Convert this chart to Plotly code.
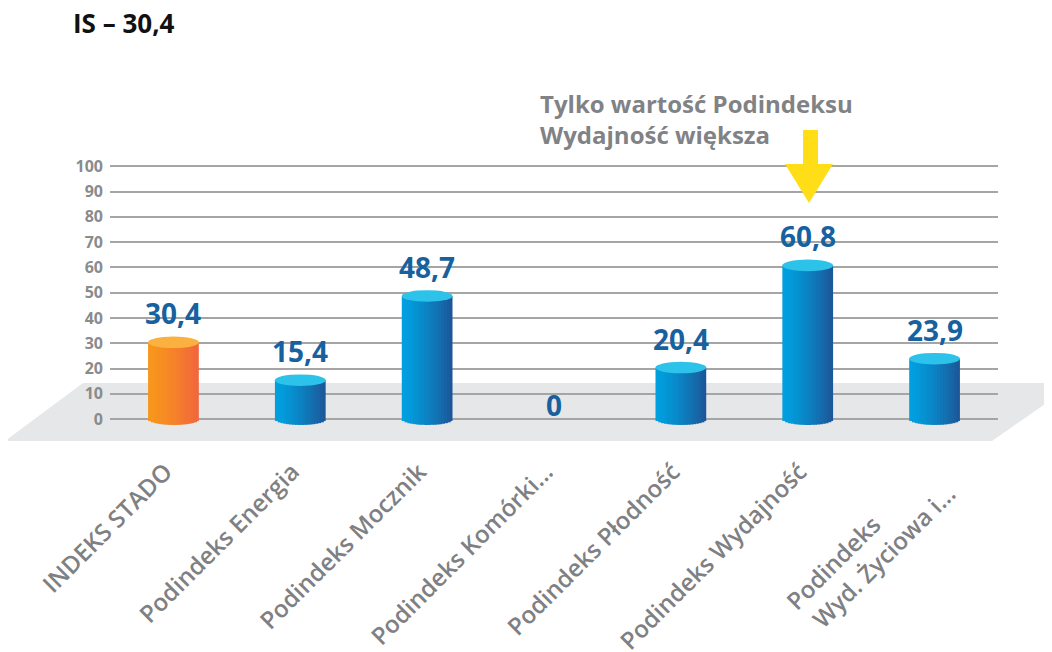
import numpy as np
import plotly.graph_objects as go

# ---- data ----
categories = [
    "INDEKS STADO",
    "Podindeks Energia",
    "Podindeks Mocznik",
    "Podindeks Komórki...",
    "Podindeks Płodność",
    "Podindeks Wydajność",
    "Podindeks<br>Wyd. Życiowa i...",
]
values = [30.4, 15.4, 48.7, 0, 20.4, 60.8, 23.9]
value_labels = ["30,4", "15,4", "48,7", "0", "20,4", "60,8", "23,9"]
y_ticks = [0, 10, 20, 30, 40, 50, 60, 70, 80, 90, 100]
title_text = "IS – 30,4"
note_lines = ["Tylko wartość Podindeksu", "Wydajność większa"]
highlight_index = 0  # orange bar

# ---- styles ----
FONT = "Open Sans"
BAR_W = 0.4
N_SLICES = 18
RY = 2.3  # half-height of cylinder ellipse in data units
PAGE_OFF = 8  # default body margin of the html page
FIG_W, FIG_H = 1052 - PAGE_OFF, 652 - PAGE_OFF
M_L, M_R, M_T, M_B = 110 - PAGE_OFF, 54, 141 - PAGE_OFF, 200
PLOT_W = FIG_W - M_L - M_R
PLOT_H = FIG_H - M_T - M_B
PLOT_BOTTOM = PAGE_OFF + M_T + PLOT_H  # page pixel


def lerp_color(c1, c2, t):
    a = [int(c1[i:i + 2], 16) for i in (1, 3, 5)]
    b = [int(c2[i:i + 2], 16) for i in (1, 3, 5)]
    return "#%02x%02x%02x" % tuple(int(round(a[j] + (b[j] - a[j]) * t)) for j in range(3))


def left_align_lines(label, pad=12):
    # angled tick labels are end-anchored; pad the shorter first line so lines start together
    if "<br>" in label:
        first, rest = label.split("<br>", 1)
        return first + "&nbsp;" * pad + "<br>" + rest
    return label


def px_to_paper(px, py):
    # page pixel -> paper coordinates
    return (px - PAGE_OFF - M_L) / PLOT_W, (PLOT_BOTTOM - py) / PLOT_H


orange_l, orange_r, orange_cap = "#f7961c", "#f2663b", "#fbb13f"
blue_l, blue_r, blue_cap = "#009fdf", "#1c5899", "#2cc2e9"

fig = go.Figure()

xs = list(range(len(categories)))
sw = BAR_W / N_SLICES
for k in range(N_SLICES):
    t = k / (N_SLICES - 1)
    tt = t ** 1.3
    off = -BAR_W / 2 + k * sw
    width = min(sw * 1.35, BAR_W / 2 - off)
    u = (off + sw / 2) / (BAR_W / 2)
    drop = RY * np.sqrt(max(0.0, 1 - u * u))
    bases, lens, cols = [], [], []
    for i, v in enumerate(values):
        if v > 0:
            bases.append(-drop)
            lens.append(v + drop)
        else:
            bases.append(0)
            lens.append(0)
        if i == highlight_index:
            cols.append(lerp_color(orange_l, orange_r, tt))
        else:
            cols.append(lerp_color(blue_l, blue_r, tt))
    fig.add_trace(go.Bar(
        x=xs, y=lens, base=bases, offset=off, width=width,
        marker=dict(color=cols, line=dict(width=0)),
        hoverinfo="skip", showlegend=False,
    ))

shapes = []

# floor (decorative)
fl = [px_to_paper(83, 383), px_to_paper(1075, 383), px_to_paper(992, 441), px_to_paper(5, 441)]
shapes.append(dict(
    type="path", xref="paper", yref="paper", layer="below",
    path="M {} {} L {} {} L {} {} L {} {} Z".format(*[c for p in fl for c in p]),
    fillcolor="#e6e7e8", line=dict(width=0),
))

# cylinder caps
for i, v in enumerate(values):
    if v > 0:
        shapes.append(dict(
            type="circle", xref="x", yref="y", layer="above",
            x0=i - BAR_W / 2, x1=i + BAR_W / 2, y0=v - RY, y1=v + RY,
            fillcolor=orange_cap if i == highlight_index else blue_cap,
            line=dict(width=0),
        ))

# yellow arrow
ar = [px_to_paper(803, 130), px_to_paper(818, 130), px_to_paper(818, 164),
      px_to_paper(833, 164), px_to_paper(809, 203), px_to_paper(785, 164),
      px_to_paper(803, 164)]
shapes.append(dict(
    type="path", xref="paper", yref="paper",
    path="M " + " L ".join("{} {}".format(a, b) for a, b in ar) + " Z",
    fillcolor="#ffdd17", line=dict(width=0),
))

annotations = []
for i, (v, lab) in enumerate(zip(values, value_labels)):
    annotations.append(dict(
        x=i, y=v, xref="x", yref="y", text="<b>%s</b>" % lab, showarrow=False,
        yanchor="middle", yshift=29 if v > 0 else 14,
        font=dict(family=FONT, size=28, color="#17619f"),
    ))
for j, line in enumerate(note_lines):
    xp, yp = px_to_paper(538, 103 + 32 * j)
    annotations.append(dict(
        x=xp, y=yp, xref="paper", yref="paper", text="<b>%s</b>" % line,
        showarrow=False, xanchor="left", yanchor="middle",
        font=dict(family=FONT, size=24, color="#808285"),
    ))

fig.update_layout(
    width=FIG_W, height=FIG_H,
    margin=dict(l=M_L, r=M_R, t=M_T, b=M_B, autoexpand=False),
    paper_bgcolor="white", plot_bgcolor="rgba(0,0,0,0)",
    barmode="overlay",
    showlegend=False,
    title=dict(
        text="<b>%s</b>" % title_text, xref="container", yref="container",
        x=(73 - PAGE_OFF) / FIG_W, y=1 - (24 - PAGE_OFF) / FIG_H,
        xanchor="left", yanchor="middle", automargin=False,
        font=dict(family=FONT, size=26, color="#111111"),
    ),
    xaxis=dict(
        range=[-0.5, len(categories) - 0.5], tickmode="array", tickvals=xs,
        ticktext=[left_align_lines(c) for c in categories], tickangle=-45,
        showgrid=False, zeroline=False, showline=False, ticks="", automargin=False,
        ticklabelshift=-8,
        tickfont=dict(family=FONT, size=24, color="#7f8083", weight=600),
    ),
    yaxis=dict(
        range=[-13, 110], tickmode="array", tickvals=y_ticks,
        ticktext=[str(t) for t in y_ticks], showgrid=True, gridcolor="#a5a5a5",
        gridwidth=1.5, zeroline=False, showline=False, ticks="", automargin=False,
        ticklabelstandoff=6,
        tickfont=dict(family=FONT, size=16, color="#8a8b8d", weight=700),
    ),
    shapes=shapes, annotations=annotations,
)

fig.write_html("out.html", config={"displayModeBar": False})
